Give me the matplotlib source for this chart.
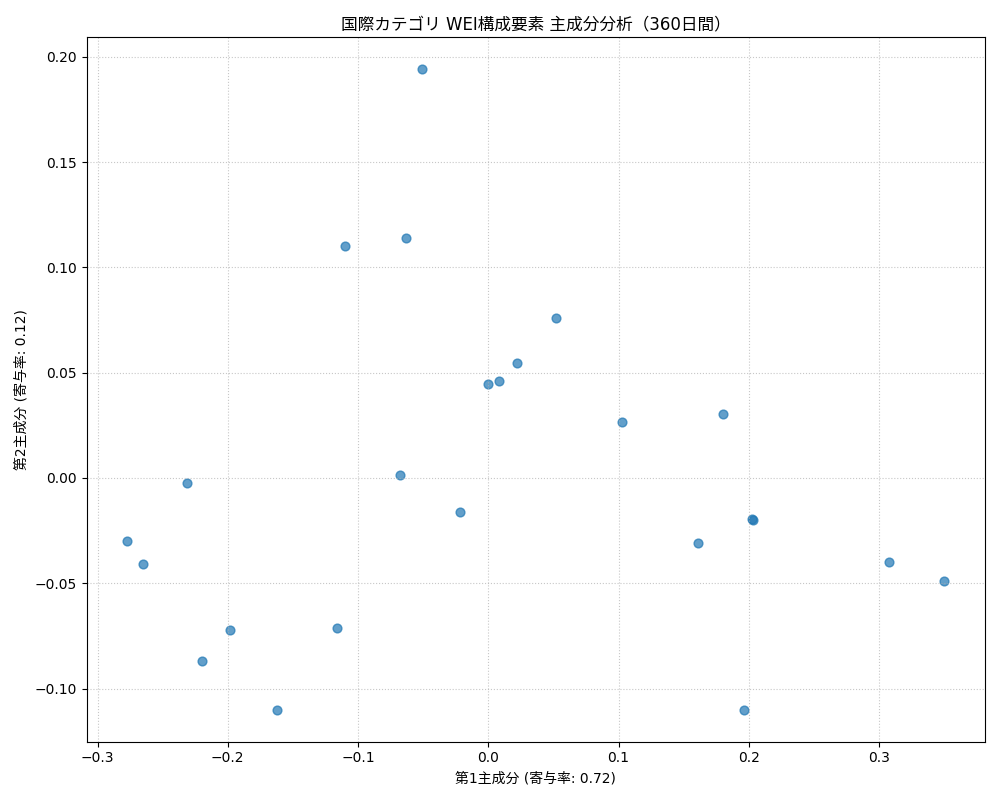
import matplotlib
matplotlib.use('Agg')
import matplotlib.pyplot as plt

plt.rcParams['font.family'] = ['DejaVu Sans', 'Noto Sans CJK JP']

# PCA scores
pc1 = [-0.0506, -0.110, -0.063, 0.052, 0.022, 0.000, 0.008, 0.103, 0.180,
       -0.068, -0.231, -0.022, 0.2025, 0.2030, -0.277, -0.265, 0.161, 0.308,
       0.350, -0.198, -0.116, -0.220, -0.162, 0.196]
pc2 = [0.194, 0.110, 0.114, 0.076, 0.0546, 0.0446, 0.046, 0.0266, 0.0304,
       0.0014, -0.0024, -0.0161, -0.0195, -0.0198, -0.030, -0.041, -0.031, -0.040,
       -0.049, -0.072, -0.071, -0.087, -0.110, -0.110]

fig, ax = plt.subplots(figsize=(10, 8), dpi=100)
ax.scatter(pc1, pc2, color='#1f77b4', alpha=0.7, s=40)
ax.set_title('国際カテゴリ WEI構成要素 主成分分析（360日間）')
ax.set_xlabel('第1主成分 (寄与率: 0.72)')
ax.set_ylabel('第2主成分 (寄与率: 0.12)')
ax.grid(True, linestyle=':', alpha=0.7)
plt.tight_layout()
plt.savefig('out.png')
